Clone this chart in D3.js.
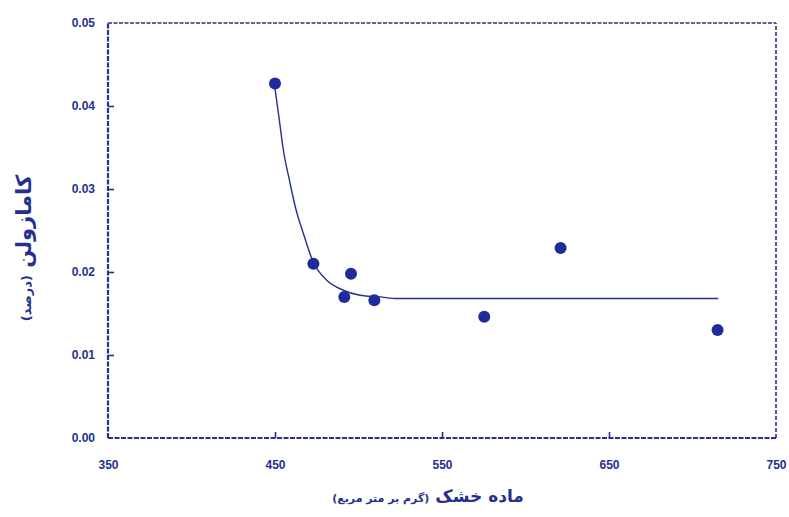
<!DOCTYPE html>
<html>
<head>
<meta charset="utf-8">
<script src="https://cdn.jsdelivr.net/npm/d3@7"></script>
<style>
  body { margin: 0; background: #fff; }
  text { font-family: "Liberation Sans", Arial, sans-serif; fill: #25308f; }
</style>
</head>
<body>
<div id="chart"></div>
<script>
// measured points
const dryMatter = [450, 473, 491.5, 495.5, 509.5, 575.3, 621, 715];
const chamazulene = [0.0427, 0.0210, 0.0170, 0.0198, 0.0166, 0.0146, 0.0229, 0.0130];

// fitted curve
const fitX = [449.6, 452.6, 455, 458.6, 462.6, 466.9, 472.9, 481, 490.9, 500.9, 512.9, 522.9, 715.4];
const fitY = [0.0427, 0.0383, 0.0347, 0.0311, 0.0275, 0.0247, 0.0212, 0.0190, 0.0178, 0.0172, 0.0170, 0.0168, 0.0168];

const xTicks = [350, 450, 550, 650, 750];
const yTicks = [0, 0.01, 0.02, 0.03, 0.04, 0.05];

const width = 789, height = 517;
const ink = "#25308f";

const svg = d3.select("#chart")
  .append("svg")
  .attr("width", width)
  .attr("height", height);

const x = d3.scaleLinear().domain([350, 750]).range([108, 776]);
const y = d3.scaleLinear().domain([0, 0.05]).range([438, 23]);

// frame
const frame = svg.append("g");
frame.append("line")
  .attr("x1", x(350)).attr("x2", x(350)).attr("y1", y(0)).attr("y2", y(0.05))
  .attr("stroke", ink).attr("stroke-width", 2.2).attr("stroke-dasharray", "5,1.5");
frame.append("line")
  .attr("x1", x(350)).attr("x2", x(750)).attr("y1", y(0)).attr("y2", y(0))
  .attr("stroke", ink).attr("stroke-width", 2).attr("stroke-dasharray", "5,1.5");
frame.append("line")
  .attr("x1", x(350)).attr("x2", x(750)).attr("y1", y(0.05)).attr("y2", y(0.05))
  .attr("stroke", ink).attr("stroke-width", 1.6).attr("stroke-dasharray", "4,1.5");
frame.append("line")
  .attr("x1", x(750)).attr("x2", x(750)).attr("y1", y(0)).attr("y2", y(0.05))
  .attr("stroke", ink).attr("stroke-width", 1.6).attr("stroke-dasharray", "4,2");

// axes
const xAxis = d3.axisBottom(x)
  .tickValues(xTicks)
  .tickSizeInner(-6)
  .tickSizeOuter(0)
  .tickPadding(22)
  .tickFormat(d3.format("d"));

const yAxis = d3.axisLeft(y)
  .tickValues(yTicks)
  .tickSizeInner(-6)
  .tickSizeOuter(0)
  .tickPadding(13)
  .tickFormat(d3.format(".2f"));

const gx = svg.append("g")
  .attr("transform", `translate(0,${y(0)})`)
  .call(xAxis);
const gy = svg.append("g")
  .attr("transform", `translate(${x(350)},0)`)
  .call(yAxis);

[gx, gy].forEach(g => {
  g.select(".domain").remove();
  g.selectAll(".tick line").attr("stroke", ink).attr("stroke-width", 1.6);
  g.selectAll(".tick text")
    .attr("fill", ink)
    .style("font-size", "12px")
    .style("font-weight", "bold");
});
gx.selectAll(".tick")
  .filter(d => d === 350 || d === 750)
  .select("line").remove();
gy.selectAll(".tick")
  .filter(d => d === 0 || d === 0.05)
  .select("line").remove();

// fitted curve
const line = d3.line()
  .x(d => x(d[0]))
  .y(d => y(d[1]))
  .curve(d3.curveMonotoneX);

svg.append("path")
  .datum(d3.zip(fitX, fitY))
  .attr("d", line)
  .attr("fill", "none")
  .attr("stroke", ink)
  .attr("stroke-width", 1.4);

// points
svg.append("g")
  .selectAll("circle")
  .data(d3.zip(dryMatter, chamazulene))
  .enter()
  .append("circle")
  .attr("cx", d => x(d[0]))
  .attr("cy", d => y(d[1]))
  .attr("r", 6)
  .attr("fill", "#1f2b9a");

// axis titles
svg.append("text")
  .attr("x", 428)
  .attr("y", 502)
  .attr("text-anchor", "middle")
  .attr("direction", "rtl")
  .style("font-family", "'DejaVu Sans', sans-serif")
  .style("font-weight", "bold")
  .html('<tspan style="font-size:17px">ماده خشک </tspan><tspan style="font-size:11px">(گرم بر متر مربع)</tspan>');

svg.append("text")
  .attr("transform", "translate(31,248) rotate(-90)")
  .attr("text-anchor", "middle")
  .attr("direction", "rtl")
  .style("font-family", "'DejaVu Sans', sans-serif")
  .style("font-weight", "bold")
  .html('<tspan style="font-size:21px">کامازولن </tspan><tspan style="font-size:13px">(درصد)</tspan>');
</script>
</body>
</html>
